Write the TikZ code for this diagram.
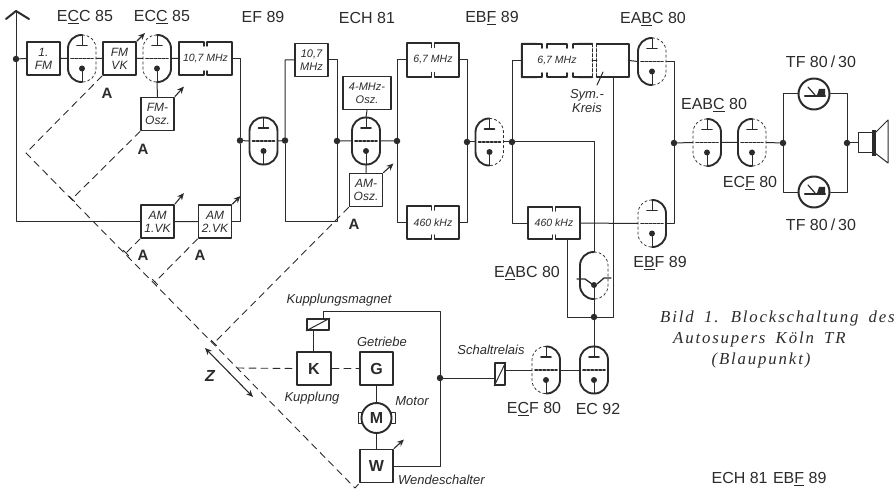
\documentclass[tikz,border=0pt]{standalone}
\usepackage{fontspec}
\setsansfont{Liberation Sans}
\newfontfamily\capfont[LetterSpace=11,WordSpace=1.7]{Liberation Serif}
\usepackage{tikz}
\usetikzlibrary{arrows.meta, calc, positioning}
\definecolor{ink}{HTML}{2B2B2B}
\tikzset{
  el/.style={line cap=round, line join=round, ink},
  wire/.style={line width=1pt},
  heavy/.style={line width=1.9pt},
  thinph/.style={line width=0.75pt, dash pattern=on 2.5pt off 2.5pt},
  ctrl/.style={line width=0.9pt, dash pattern=on 7pt off 5pt},
  trim/.style={line width=1.1pt, -{Stealth[length=7pt,width=6pt]}},
  block/.style={draw=ink, line width=1.9pt, minimum width=33pt, minimum height=33pt, inner sep=0pt, align=center, font=\sffamily\itshape\fontsize{12}{13}\selectfont},
  fltr/.style={minimum height=33pt, inner sep=0pt, align=center, font=\sffamily\itshape\fontsize{10.5}{12}\selectfont},
  shell/.style={minimum width=28pt, minimum height=47pt, inner sep=0pt},
  dot/.style={circle, fill=ink, minimum size=6.5pt, inner sep=0pt},
  tname/.style={font=\sffamily\fontsize{16}{16}\selectfont, inner sep=0pt},
  note/.style={font=\sffamily\itshape\fontsize{13}{14.5}\selectfont, inner sep=0pt, align=center},
  adj/.style={font=\sffamily\bfseries\fontsize{15}{15}\selectfont, inner sep=0pt},
  bigbox/.style={block, font=\sffamily\bfseries\fontsize{16}{16}\selectfont},
  capt/.style={font=\capfont\itshape\fontsize{16.8}{19}\selectfont, inner sep=0pt, anchor=west},
}
% envelope: #4 and #5 are the styles of the two halves
\newcommand{\tubeshell}[5]{
  \node[shell] (#1) at (#2,#3) {};
  \begin{scope}[shift={(#2,#3)}]
    \draw[#4, rounded corners=13.5pt] (0,-23.5) -- (-14,-23.5) -- (-14,23.5) -- (0,23.5);
    \draw[#5, rounded corners=13.5pt] (0,-23.5) -- (14,-23.5) -- (14,23.5) -- (0,23.5);
  \end{scope}}
\newcommand{\tube}[5]{
  \tubeshell{#1}{#2}{#3}{#4}{#5}
  \begin{scope}[shift={(#2,#3)}]
    \draw[wire] (0,-23.5) -- (0,-13);
    \draw[line width=1.6pt] (-5,-13) -- (5,-13);
    \draw[line width=1.6pt, dash pattern=on 2.5pt off 1.5pt] (-11,0) -- (11,0);
    \fill[ink] (0,10) circle (3);
    \draw[wire] (0,10) -- (0,23.5);
  \end{scope}}
\newcommand{\filter}[6]{
  \node[fltr, minimum width=#4pt, minimum height=#5pt] (#1) at (#2,#3) {#6};
  \draw[heavy] ([shift={(-1.5,4)}]#1.north) -- ([xshift=-1.5pt]#1.north) -- (#1.north west) -- (#1.south west) -- ([xshift=-1.5pt]#1.south) -- ([shift={(-1.5,-4)}]#1.south);
  \draw[heavy] ([shift={(1.5,4)}]#1.north) -- ([xshift=1.5pt]#1.north) -- (#1.north east) -- (#1.south east) -- ([xshift=1.5pt]#1.south) -- ([shift={(1.5,-4)}]#1.south);}
\newcommand{\powertube}[3]{
  \node[circle, draw=ink, line width=2pt, minimum size=31pt, inner sep=0pt] (#1) at (#2,#3) {};
  \begin{scope}[shift={(#2,#3)}]
    \draw[line width=2.4pt] (-9,2) -- (11,2);
    \draw[line width=1.2pt] (-6,-7) -- (1,1);
    \fill[ink] (3,1) -- (5,-5) -- (11,-5) -- (11,1) -- cycle;
  \end{scope}}

\begin{document}
\begin{tikzpicture}[el, x=1pt, y=-1pt]
  \useasboundingbox (0,0) rectangle (896,489);

  % tubes
  \tube{ecca}{82}{58.5}{heavy}{thinph}
  \tube{eccb}{157}{58.5}{thinph}{heavy}
  \tube{efn}{263.5}{141}{heavy}{heavy}
  \tube{ech}{366}{141}{heavy}{heavy}
  \tube{ebfa}{489.5}{142}{heavy}{thinph}
  \tube{eabcb}{652}{61.5}{heavy}{thinph}
  \tube{eabcc}{707}{142.5}{thinph}{heavy}
  \tube{ecfa}{752}{142.5}{heavy}{thinph}
  \tube{ebfb}{652}{223.5}{thinph}{heavy}
  \tube{ecfb}{546}{370}{thinph}{heavy}
  \tube{ecn}{594}{370}{heavy}{heavy}
  \tubeshell{eabca}{594}{275.5}{heavy}{thinph}
  \fill[ink] (594,285) circle (3);
  \draw[wire] (eabca.south) -- (594,285);
  \draw[line width=1.3pt] (577,279) -- (585,279) -- (592,284);
  \draw[line width=1.3pt] (611,278) -- (604,278) -- (597,284);

  % blocks
  \node[block] (fmeins) at (43.5,58.5) {1.\\FM};
  \node[block] (fmvk) at (119.5,58.5) {FM\\VK};
  \node[block] (fmosz) at (157.5,114) {FM-\\Osz.};
  \node[block] (amvka) at (157.5,221.5) {AM\\1.VK};
  \node[block] (amvkb) at (215,221.5) {AM\\2.VK};
  \node[block, font=\sffamily\itshape\fontsize{11}{12.5}\selectfont] (zfb) at (311.5,60) {10,7\\MHz};
  \node[block, minimum width=48pt, font=\sffamily\itshape\fontsize{11}{13}\selectfont] (vierosz) at (367,93) {4-MHz-\\Osz.};
  \node[block] (amosz) at (366,190) {AM-\\Osz.};
  \filter{zfa}{205.5}{58.5}{53}{33}{10,7 MHz}
  \filter{fma}{433}{60}{52}{33}{6,7 MHz}
  \filter{ama}{433}{222.5}{52}{33}{460 kHz}
  \filter{amb}{554}{223}{52}{32}{460 kHz}

  % 6,7 MHz with symmetry circuit
  \node[fltr, minimum width=70pt] (fmb) at (557,60.5) {6,7 MHz};
  \node[inner sep=0pt, minimum width=32pt, minimum height=33pt] (sym) at (613,60.5) {};
  \draw[heavy] (542,48) -- (542,44) -- (fmb.north west) -- (fmb.south west) -- (542,77) -- (542,73);
  \draw[heavy] (547,48) -- (547,44) -- (567,44) -- (567,48) (547,73) -- (547,77) -- (567,77) -- (567,73);
  \draw[heavy] (573,48) -- (573,44) -- (fmb.north east) (573,73) -- (573,77) -- (fmb.south east);
  \draw[line width=1.2pt, dash pattern=on 3pt off 2pt] (fmb.north east) -- (fmb.south east);
  \draw[line width=1.2pt, dash pattern=on 3pt off 2pt] (sym.north west) -- (sym.south west);
  \draw[heavy] (sym.north west) -- (sym.north east) -- (sym.south east) -- (sym.south west);
  \draw[wire] (fmb.east) -- (sym.west);
  \coordinate (symtip) at (597,85);
  \draw[wire] (603,72) -- (symtip);

  % junctions
  \node[dot] (jant) at (16,59) {};
  \node[dot] (jzfl) at (240,140.5) {};
  \node[dot] (jzfr) at (285,140.5) {};
  \node[dot] (jchl) at (337,141) {};
  \node[dot] (jchr) at (397,141) {};
  \node[dot] (jbfl) at (467,142) {};
  \node[dot] (jbfr) at (512,142) {};
  \node[dot] (jdem) at (674,143) {};
  \node[dot] (jtfl) at (783,143) {};
  \node[dot] (jtfr) at (847,143) {};
  \node[dot] (jnf) at (594,317) {};
  \node[dot] (jrel) at (440,378) {};

  % signal path
  \coordinate (ant) at (16,11);
  \draw[line width=2pt] (6,19) -- (ant) -- (29,19);
  \draw[wire] (ant) |- (amvka.west);
  \draw[wire] (jant) -- (fmeins.west) (fmeins.east) -- (ecca.west) (ecca.east) -- (fmvk.west) (fmvk.east) -- (eccb.west) (eccb.east) -- (zfa.west);
  \draw[wire] (eccb.south) -- (fmosz.north) (amvka.east) -- (amvkb.west);
  \draw[wire] (zfa.east) -| (jzfl) |- (amvkb.east);
  \draw[wire] (jzfl) -- (efn.west) (efn.east) -- (jzfr) (jzfr) |- (zfb.west);
  \draw[wire] (zfb.east) -| (jchl) |- (jzfr |- amvkb) -- (jzfr);
  \draw[wire] (jchl) -- (ech.west) (ech.east) -- (jchr) (ech.north) -- (vierosz.south) (ech.south) -- (amosz.north);
  \draw[wire] (jchr) |- (fma.west) (jchr) |- (ama.west);
  \draw[wire] (fma.east) -| (jbfl) |- (ama.east);
  \draw[wire] (jbfl) -- (ebfa.west) (ebfa.east) -- (jbfr);
  \draw[wire] (jbfr) |- (fmb.west) (jbfr) |- (amb.west);
  \draw[wire] (jbfr) -| (eabca.north);
  \draw[wire] (sym.east) -- (eabcb.west) (amb.east) -- (ebfb.west);
  \draw[wire] (eabcb.east) -| (jdem) |- (ebfb.east);
  \draw[wire] (jdem) -- (eabcc.west) (eabcc.east) -- (ecfa.west) (ecfa.east) -- (jtfl);

  % output stage
  \powertube{tfa}{814}{94}
  \powertube{tfb}{814}{192}
  \draw[wire] (tfa.west) -| (jtfl) |- (tfb.west);
  \draw[wire] (tfa.east) -| (jtfr) |- (tfb.east);
  \node[draw=ink, line width=1pt, minimum width=14pt, minimum height=20pt, inner sep=0pt] (spk) at (865,143) {};
  \draw[wire] (jtfr) -- (spk.west);
  \fill[ink] (872,130) rectangle (875.5,156);
  \draw[wire] (875,133) -- (888,120) -- (888,163) -- (875,153);

  % detector to motor relay
  \draw[wire] (sym.south) -- (sym.south |- jnf) -- (jnf);
  \draw[wire] ([xshift=13pt]amb.south) |- (jnf);
  \draw[wire] (eabca.south) -- (jnf) (jnf) -- (ecn.north);
  \draw[wire] (ecn.west) -- (ecfb.east);
  \node[draw=ink, line width=1.4pt, minimum width=10pt, minimum height=22pt, inner sep=0pt] (relais) at (500,374) {};
  \draw[wire] (relais.south west) -- (relais.north east);
  \draw[wire] (ecfb.west) -- (relais.east |- ecfb);
  \draw[wire] (jrel) -- (relais.west |- jrel);

  % motor unit
  \node[bigbox, minimum width=34pt] (kuppl) at (314,368.5) {K};
  \node[bigbox] (getr) at (376.5,368.5) {G};
  \node[bigbox] (wend) at (376.5,466) {W};
  \node[circle, draw=ink, line width=1.9pt, minimum size=30pt, inner sep=0pt, font=\sffamily\bfseries\fontsize{16}{16}\selectfont] (motor) at (376.5,418) {M};
  \draw[wire] (358,412) rectangle (361.5,423) (391.5,412) rectangle (395,423);
  \node[draw=ink, line width=1.5pt, minimum width=22pt, minimum height=11pt, inner sep=0pt] (magnet) at (318,324.5) {};
  \draw[wire] (magnet.south west) -- (magnet.north east);
  \draw[wire] (magnet.south -| kuppl.north) ++(-1,0) -- (313,352);
  \draw[wire] (getr.south) -- (motor.north) (motor.south) -- (wend.north);
  \draw[wire] (wend.east) -| (jrel) (jrel) |- (323,311) -- (323,319);

  % ganging
  \coordinate (kinka) at (26,153);
  \coordinate (kinkb) at (355,488);
  \coordinate (jfmosz) at (72,199);
  \coordinate (jama) at (126,253);
  \coordinate (jamb) at (155,282);
  \coordinate (jamosz) at (214,343);
  \coordinate (jk) at (237,368);
  \draw[ctrl] (fmvk.south west) -- (kinka) -- (kinkb) -- (wend.south west);
  \draw[ctrl] (fmosz.south west) -- (jfmosz);
  \draw[ctrl] (amvka.south west) -- (jama);
  \draw[ctrl] (amvkb.south west) -- (jamb);
  \draw[ctrl] (amosz.south west) -- (jamosz);
  \draw[ctrl] (jk) -- (kuppl.west);
  \draw[ctrl] (kuppl.east) -- (getr.west);
  \foreach \j in {jfmosz,jama,jamb,jamosz}{
     \draw[wire] (\j) ++(-2.5,-2.5) -- ++(5,5);}
  \coordinate (zfrom) at (205,348);
  \coordinate (zto) at (253,397);
  \draw[line width=1.1pt, {Stealth[length=7pt,width=6pt]}-{Stealth[length=7pt,width=6pt]}] (zfrom) -- (zto);

  % trimmers
  \draw[trim] (fmvk.north east) -- ++(8,-8);
  \draw[trim] (fmosz.north east) -- ++(9,-10);
  \draw[trim] (amvka.north east) -- ++(9,-11);
  \draw[trim] (amvkb.north east) -- ++(8,-8);
  \draw[trim] (amosz.north east) -- ++(10,-9);
  \draw[trim] (wend.north east) -- ++(10,-9);

  % tube names
  \node[tname] (lecca) at (85,17) {E\underline{C}C 85};
  \node[tname] (leccb) at (162,17) {EC\underline{C} 85};
  \node[tname] (lefn) at (263,17) {EF 89};
  \node[tname] (lech) at (367,18) {ECH 81};
  \node[tname] (lebfa) at (492,18) {EB\underline{F} 89};
  \node[tname] (leabcb) at (653,19) {EA\underline{B}C 80};
  \node[tname] (leabcc) at (714,105) {EAB\underline{C} 80};
  \node[tname] (lecfa) at (750,183) {EC\underline{F} 80};
  \node[tname] (ltfa) at (821,62) {TF 80\hspace{3pt}/\hspace{3pt}30};
  \node[tname] (ltfb) at (821,225) {TF 80\hspace{3pt}/\hspace{3pt}30};
  \node[tname] (lebfb) at (660,263) {E\underline{B}F 89};
  \node[tname] (leabca) at (527,273) {E\underline{A}BC 80};
  \node[tname] (lecfb) at (534,409) {E\underline{C}F 80};
  \node[tname] (lecn) at (598,409) {EC 92};
  \node[tname] (lsum) at (769,479) {ECH 81 \hspace{1pt}EB\underline{F} 89};

  % trimmer marks
  \node[adj] (aa) at (107,93) {A};
  \node[adj] (ab) at (143,149) {A};
  \node[adj] (ac) at (143,255) {A};
  \node[adj] (ad) at (200,255) {A};
  \node[adj] (ae) at (354,224) {A};
  \node[font=\sffamily\bfseries\itshape\fontsize{16}{16}\selectfont, inner sep=0pt] (zmark) at (210,376) {Z};

  % italic notes
  \node[note] (nsym) at (587,101) {Sym.-\\Kreis};
  \node[note] (nmag) at (339,300) {Kupplungsmagnet};
  \node[note] (ngetr) at (382,342) {Getriebe};
  \node[note] (nkup) at (312,398) {Kupplung};
  \node[note] (nmot) at (412,401) {Motor};
  \node[note, anchor=west] (nwend) at (398,480) {Wendeschalter};
  \node[note] (nrel) at (491,350) {Schaltrelais};

  % caption
  \node[capt] (capa) at (660,318) {Bild 1. Blockschaltung des};
  \node[capt] (capb) at (673,339) {Autosupers Köln TR};
  \node[capt, anchor=center] (capc) at (761,360) {(Blaupunkt)};
\end{tikzpicture}
\end{document}
